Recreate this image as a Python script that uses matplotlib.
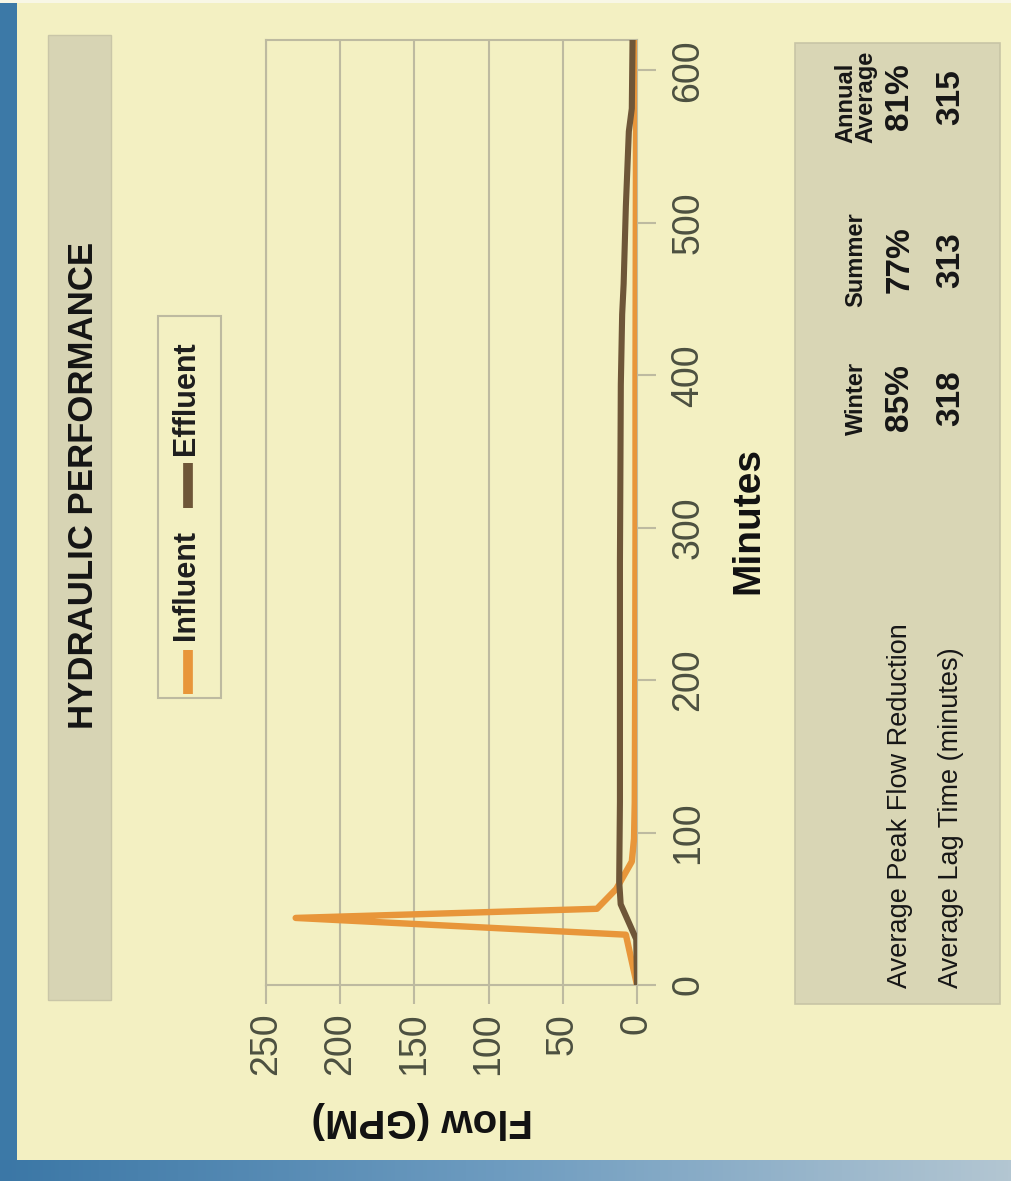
import matplotlib
matplotlib.use("Agg")
import matplotlib.pyplot as plt
import numpy as np
from matplotlib.patches import Rectangle
from matplotlib.lines import Line2D
from matplotlib.colors import LinearSegmentedColormap

# ---- data -------------------------------------------------------------
influent_min = [0, 33, 44, 50, 63, 81, 96, 120, 200, 300, 400, 500, 620]
influent_gpm = [0, 7.5, 230, 27, 14, 3.5, 2, 1.5, 1.2, 1.0, 1.0, 0.8, 0.5]

effluent_min = [0, 30, 53, 68, 120, 225, 277, 394, 440, 460, 511, 560, 575, 620]
effluent_gpm = [0, 0.5, 11, 12, 11.5, 11.5, 11.5, 10.9, 10, 9, 7.5, 5.5, 3.5, 3]

flow_ticks = [0, 50, 100, 150, 200, 250]
minute_ticks = [0, 100, 200, 300, 400, 500, 600]

seasons = ["Winter", "Summer", "Annual\nAverage"]
peak_flow_reduction = [85, 77, 81]      # percent
lag_time_minutes = [318, 313, 315]
row_labels = ["Average Peak Flow Reduction", "Average Lag Time (minutes)"]

# ---- styling ----------------------------------------------------------
W, H, DPI = 1012, 1181, 100
PANEL = "#F3F0C2"
BAND = "#D7D4B4"
TABLE = "#D9D6B5"
GRID = "#BDBAA0"
TICK_TXT = "#4C5040"
INFLUENT = "#E8963A"
EFFLUENT = "#6E5638"
BLUE = "#3C79A7"

plt.rcParams["font.family"] = ["Liberation Sans", "DejaVu Sans"]
NARROW = ["Liberation Sans Narrow", "Liberation Sans", "DejaVu Sans"]

fig = plt.figure(figsize=(W / DPI, H / DPI), dpi=DPI)
fig.patch.set_facecolor(PANEL)


def box(x0, y0, x1, y1, **kw):
    """Rectangle in pixel coordinates measured from the top-left corner."""
    r = Rectangle((x0 / W, 1 - y1 / H), (x1 - x0) / W, (y1 - y0) / H,
                  transform=fig.transFigure, **kw)
    fig.add_artist(r)
    return r


def ptext(x, y, s, **kw):
    return fig.text(x / W, 1 - y / H, s, **kw)


def pline(xs, ys, **kw):
    fig.add_artist(Line2D([x / W for x in xs], [1 - y / H for y in ys],
                          transform=fig.transFigure, **kw))


# page edges: blue cover at the left and a fading strip along the bottom
box(0, 0, 17, H, facecolor=BLUE, edgecolor="none", zorder=0)
box(0, 0, W, 3, facecolor="#F8F7E6", edgecolor="none", zorder=0)
edge = fig.add_axes([0, 0, 1, 21 / H], zorder=0)
edge.imshow(np.linspace(0, 1, 256)[None, :], aspect="auto",
            cmap=LinearSegmentedColormap.from_list(
                "edge", ["#3B77A6", "#6E9CC0", "#B3C6D2"]),
            extent=[0, 1, 0, 1])
edge.set_axis_off()

# title band
box(48, 35, 111, 1000, facecolor=BAND, edgecolor="#C9C6A8", lw=1, zorder=1)
ptext(84, 485, "HYDRAULIC PERFORMANCE", rotation=90, ha="center", va="center",
      fontsize=25, fontweight="bold", color="#141414", zorder=2)

# legend
box(158, 316, 221, 698, facecolor="none", edgecolor="#BDBAA0", lw=1.5, zorder=1)
pline([188, 188], [650, 694], color=INFLUENT, lw=7, solid_capstyle="butt", zorder=2)
ptext(186, 640, "Influent", rotation=90, ha="center", va="bottom",
      fontsize=22, fontweight="bold", color="#1E1E1E", zorder=2)
pline([188, 188], [463, 508], color=EFFLUENT, lw=7, solid_capstyle="butt", zorder=2)
ptext(186, 455, "Effluent", rotation=90, ha="center", va="bottom",
      fontsize=22, fontweight="bold", color="#1E1E1E", zorder=2)

# chart
ax = fig.add_axes([266 / W, 1 - 985 / H, (637 - 266) / W, (985 - 40) / H])
ax.set_facecolor("none")
ax.plot(influent_gpm, influent_min, color=INFLUENT, lw=4.6,
        solid_joinstyle="round", zorder=3)
ax.plot(effluent_gpm, effluent_min, color=EFFLUENT, lw=4.4,
        solid_joinstyle="round", zorder=4)
ax.set_xlim(250, 0)
ax.set_ylim(0, 620)
ax.set_xticks(flow_ticks)
ax.set_yticks(minute_ticks)
ax.grid(axis="x", color=GRID, lw=1.5)
ax.set_axisbelow(True)
for s in ax.spines.values():
    s.set_color(GRID)
    s.set_linewidth(1.5)
ax.yaxis.tick_right()
ax.tick_params(axis="x", direction="out", length=14, width=1.5, color=GRID,
               labelsize=27, labelcolor=TICK_TXT, labelrotation=90, pad=6)
ax.tick_params(axis="y", direction="out", length=14, width=1.5, color=GRID,
               labelsize=27, labelcolor=TICK_TXT, labelrotation=90, pad=10)
for lbl in ax.get_yticklabels():
    lbl.set_va("center")

ptext(748, 520, "Minutes", rotation=90, ha="center", va="center",
      fontsize=28, fontweight="bold", color="#111111")
ptext(422, 1120, "Flow (GPM)", rotation=180, ha="center", va="center",
      fontsize=29, fontweight="bold", color="#111111")

# summary table
box(795, 43, 1000, 1004, facecolor=TABLE, edgecolor="#C8C5A6", lw=1.2, zorder=1)
col_y = [398, 260, 97]
hdr_x, row_x = 856, [900, 951]
for y, name in zip(col_y, seasons):
    ptext(hdr_x, y, name, rotation=90, ha="center", va="center",
          multialignment="left", linespacing=0.85, fontsize=17,
          fontweight="bold", family=NARROW, color="#161616", zorder=2)
for x, label in zip(row_x, row_labels):
    ptext(x, 988, label, rotation=90, ha="center", va="bottom",
          fontsize=19.5, family=NARROW, color="#161616", zorder=2)
for y, pct, lag in zip(col_y, peak_flow_reduction, lag_time_minutes):
    ptext(row_x[0], y, f"{pct}%", rotation=90, ha="center", va="center",
          fontsize=24, fontweight="bold", family=NARROW, color="#161616", zorder=2)
    ptext(row_x[1], y, f"{lag}", rotation=90, ha="center", va="center",
          fontsize=24, fontweight="bold", family=NARROW, color="#161616", zorder=2)

fig.savefig("out.png", dpi=DPI, facecolor=fig.get_facecolor())
